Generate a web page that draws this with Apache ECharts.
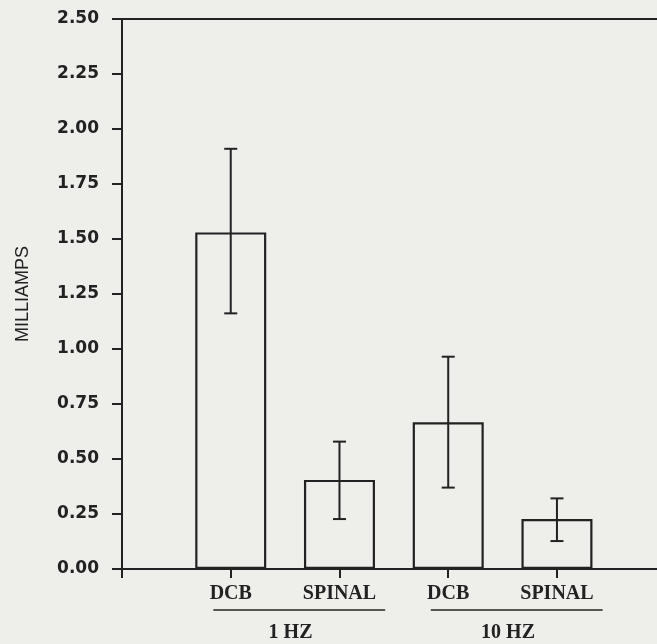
<!DOCTYPE html>
<html>
<head>
<meta charset="utf-8">
<script src="https://cdn.jsdelivr.net/npm/echarts@6.0.0/dist/echarts.min.js"></script>
<style>
  html, body { margin: 0; padding: 0; background: #eeeeeb; }
  #chart { width: 657px; height: 644px; }
</style>
</head>
<body>
<div id="chart"></div>
<script>
// data
const categories = ['DCB', 'SPINAL', 'DCB', 'SPINAL'];
const positions = [1, 2, 3, 4];
const means = [1.53, 0.405, 0.667, 0.227];
const errHigh = [1.91, 0.579, 0.965, 0.321];
const errLow = [1.162, 0.227, 0.37, 0.127];
const groupNames = ['1 HZ', '10 HZ'];
const groupFrom = [1, 3];
const groupTo = [2, 4];

const ink = '#222';
var myChart = echarts.init(document.getElementById('chart'));

var barData = positions.map((p, i) => [p, means[i]]);
var errData = positions.map((p, i) => [p, errLow[i], errHigh[i]]);
var groupData = groupNames.map((n, i) => [groupFrom[i], groupTo[i], 0]);

var option = {
    animation: false,
    backgroundColor: '#eeeeeb',
    grid: { left: 122, right: 0, top: 19, bottom: 75, containLabel: false },
    xAxis: [{
        type: 'value',
        min: 0,
        max: 4.92,
        interval: 1,
        splitLine: { show: false },
        axisLine: { show: true, onZero: false, lineStyle: { color: ink, width: 2 } },
        axisTick: { show: true, length: 9, customValues: [0, 1, 2, 3, 4], lineStyle: { color: ink, width: 2 } },
        axisLabel: {
            customValues: positions,
            formatter: v => categories[positions.indexOf(v)] || '',
            margin: 15,
            color: ink,
            fontFamily: 'Liberation Serif',
            fontWeight: 'bold',
            fontSize: 20
        }
    }, {
        // top border line
        type: 'value',
        position: 'top',
        min: 0,
        max: 4.92,
        splitLine: { show: false },
        axisLine: { show: true, onZero: false, lineStyle: { color: ink, width: 2 } },
        axisTick: { show: false },
        axisLabel: { show: false }
    }],
    yAxis: {
        type: 'value',
        min: 0,
        max: 2.5,
        interval: 0.25,
        name: 'MILLIAMPS',
        nameLocation: 'middle',
        nameGap: 90,
        nameTextStyle: { color: ink, fontFamily: 'Liberation Sans', fontSize: 18 },
        splitLine: { show: false },
        axisLine: { show: true, lineStyle: { color: ink, width: 2 } },
        axisTick: { show: true, length: 10, lineStyle: { color: ink, width: 2 } },
        axisLabel: {
            formatter: v => v.toFixed(2),
            margin: 23,
            color: ink,
            fontFamily: 'DejaVu Sans',
            fontWeight: 'bold',
            fontSize: 17
        }
    },
    series: [{
        type: 'bar',
        data: barData,
        barWidth: 71,
        itemStyle: { color: 'rgba(0,0,0,0)', borderColor: ink, borderWidth: 2.2 }
    }, {
        type: 'custom',
        data: errData,
        z: 5,
        renderItem: function (params, api) {
            var x = api.value(0);
            var lo = api.coord([x, api.value(1)]);
            var hi = api.coord([x, api.value(2)]);
            var cap = 6.5;
            var st = { stroke: ink, lineWidth: 2 };
            return {
                type: 'group',
                children: [
                    { type: 'line', shape: { x1: lo[0], y1: lo[1], x2: hi[0], y2: hi[1] }, style: st },
                    { type: 'line', shape: { x1: hi[0] - cap, y1: hi[1], x2: hi[0] + cap, y2: hi[1] }, style: st },
                    { type: 'line', shape: { x1: lo[0] - cap, y1: lo[1], x2: lo[0] + cap, y2: lo[1] }, style: st }
                ]
            };
        }
    }, {
        // group labels under the axis
        type: 'custom',
        data: groupData,
        clip: false,
        renderItem: function (params, api) {
            var a = api.coord([api.value(0) - 0.16, 0]);
            var b = api.coord([api.value(1) + 0.42, 0]);
            var mid = api.coord([(api.value(0) + api.value(1)) / 2 + 0.05, 0]);
            return {
                type: 'group',
                children: [
                    { type: 'line', shape: { x1: a[0], y1: a[1] + 41, x2: b[0], y2: b[1] + 41 },
                      style: { stroke: ink, lineWidth: 1.5 } },
                    { type: 'text', x: mid[0], y: mid[1] + 64,
                      style: { text: groupNames[params.dataIndex], fill: ink, align: 'center', verticalAlign: 'middle',
                               font: 'bold 20px "Liberation Serif"' } }
                ]
            };
        }
    }]
};

myChart.setOption(option);
</script>
</body>
</html>
